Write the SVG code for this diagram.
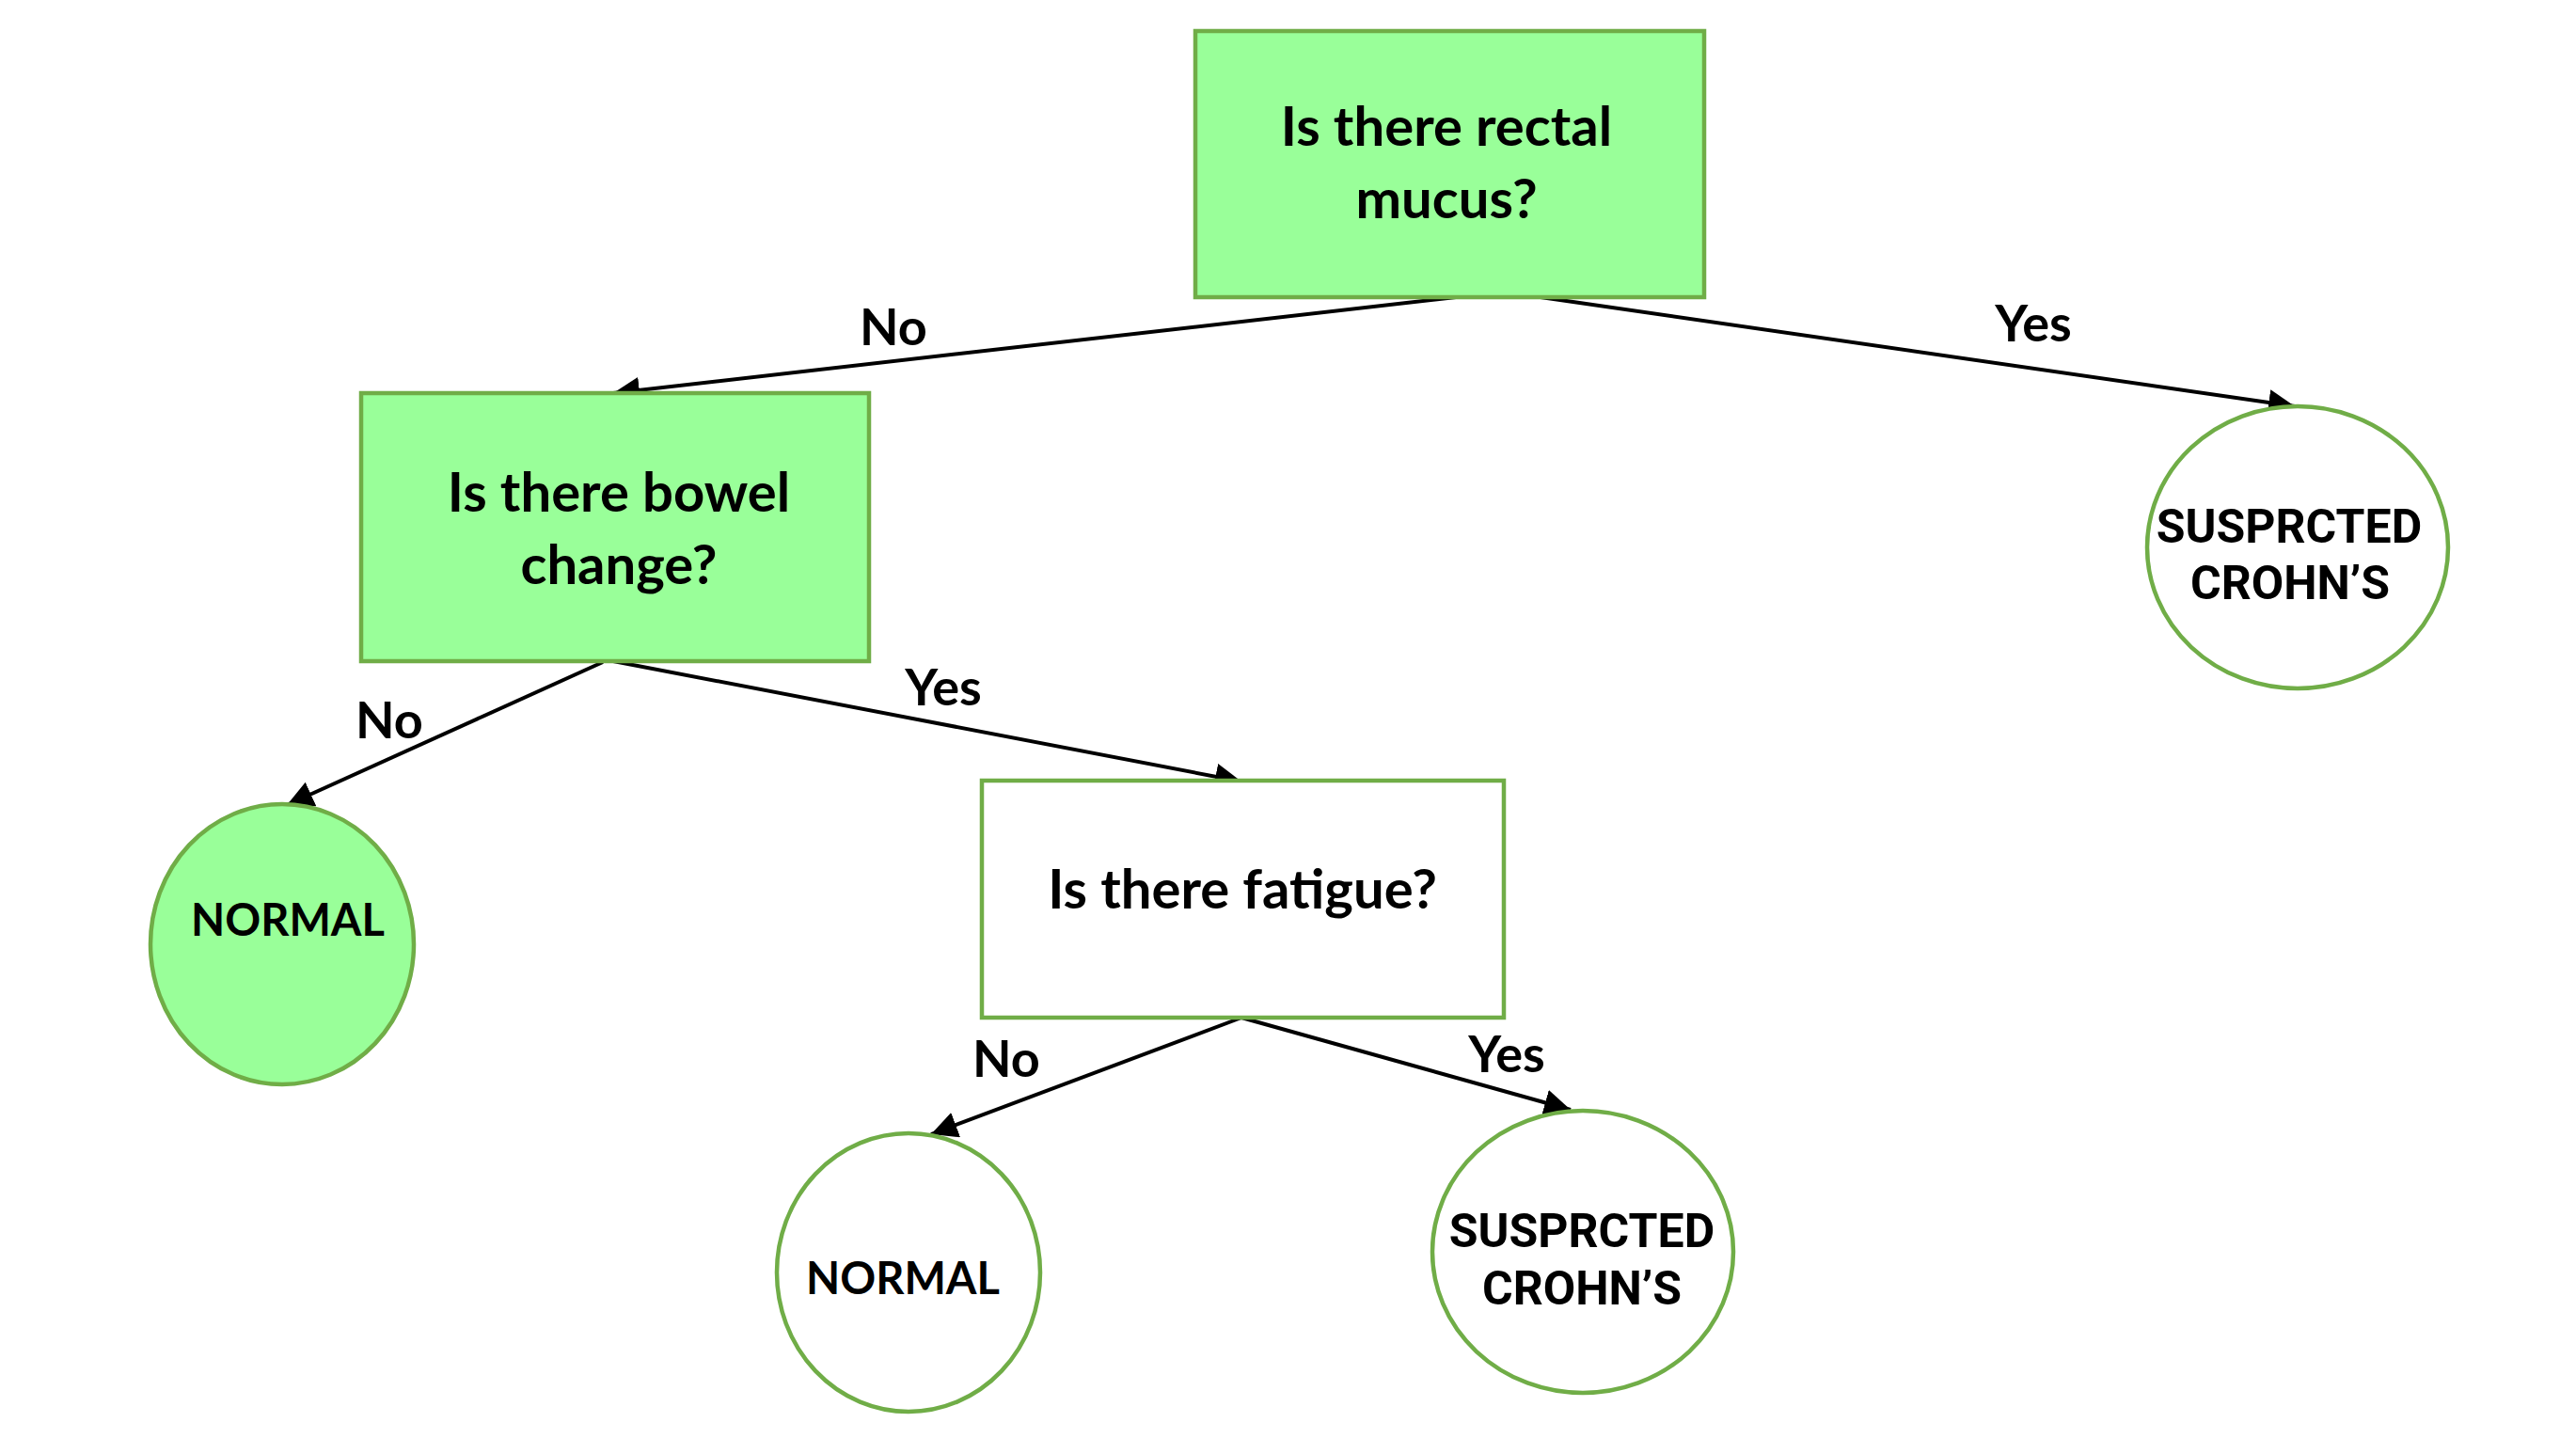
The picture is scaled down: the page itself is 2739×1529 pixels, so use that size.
<svg xmlns="http://www.w3.org/2000/svg" width="2739" height="1529" viewBox="0 0 2739 1529">
<defs>
<style>
.box{stroke:#70AD47;stroke-width:4.5}
.fill{fill:#99FF99}
.white{fill:#FFFFFF}
.q{font-family:Lato,"Open Sans","Liberation Sans",sans-serif;font-weight:bold;font-size:58px;fill:#000;text-anchor:middle}
.lbl{font-family:Lato,"Open Sans","Liberation Sans",sans-serif;font-weight:bold;font-size:54px;fill:#000;text-anchor:middle}
.norm{font-family:Lato,"Open Sans","Liberation Sans",sans-serif;font-weight:bold;font-size:47px;fill:#000;text-anchor:middle}
.sus{font-family:Roboto,"Liberation Sans",sans-serif;font-weight:bold;font-size:50px;fill:#000;text-anchor:middle}
.edge{stroke:#000;stroke-width:4;fill:none;marker-end:url(#arrow)}
</style>
<marker id="arrow" viewBox="0 0 10 10" refX="10" refY="5" markerWidth="7" markerHeight="7" markerUnits="strokeWidth" orient="auto">
<path d="M0,0 L10,5 L0,10 Z" fill="#000"/>
</marker>
</defs>
<rect width="2739" height="1529" fill="#FFFFFF"/>
<g id="connectors">
<line class="edge" x1="1548" y1="316" x2="652" y2="418"/>
<line class="edge" x1="1638" y1="316" x2="2440" y2="432"/>
<line class="edge" x1="641" y1="704" x2="305" y2="856"/>
<line class="edge" x1="652" y1="703" x2="1320" y2="831"/>
<line class="edge" x1="1320" y1="1082" x2="990" y2="1206"/>
<line class="edge" x1="1320" y1="1082" x2="1670" y2="1180"/>
<text class="lbl" x="950" y="367">No</text>
<text class="lbl" x="2162" y="363">Yes</text>
<text class="lbl" x="414" y="785">No</text>
<text class="lbl" x="1003" y="750">Yes</text>
<text class="lbl" x="1070" y="1145">No</text>
<text class="lbl" x="1602" y="1140">Yes</text>
</g>
<g id="q-rectal">
<rect class="box fill" x="1271" y="33" width="541" height="283"/>
<text class="q" x="1538" y="155">Is there rectal</text>
<text class="q" x="1538" y="232">mucus?</text>
</g>
<g id="q-bowel">
<rect class="box fill" x="384" y="418" width="540" height="285"/>
<text class="q" x="658" y="544">Is there bowel</text>
<text class="q" x="658" y="621">change?</text>
</g>
<g id="q-fatigue">
<rect class="box white" x="1044" y="830" width="555" height="252"/>
<text class="q" x="1321" y="966">Is there fatigue?</text>
</g>
<g id="suspected-1">
<ellipse class="box white" cx="2443" cy="582" rx="160" ry="150"/>
<text class="sus" x="2434" y="577">SUSPRCTED</text>
<text class="sus" x="2435" y="637">CROHN’S</text>
</g>
<g id="normal-1">
<ellipse class="box fill" cx="300" cy="1004" rx="140" ry="149"/>
<text class="norm" x="306" y="995">NORMAL</text>
</g>
<g id="normal-2">
<ellipse class="box white" cx="966" cy="1353" rx="140" ry="148"/>
<text class="norm" x="960" y="1376">NORMAL</text>
</g>
<g id="suspected-2">
<ellipse class="box white" cx="1683" cy="1331" rx="160" ry="150"/>
<text class="sus" x="1682" y="1326">SUSPRCTED</text>
<text class="sus" x="1682" y="1387">CROHN’S</text>
</g>
</svg>
